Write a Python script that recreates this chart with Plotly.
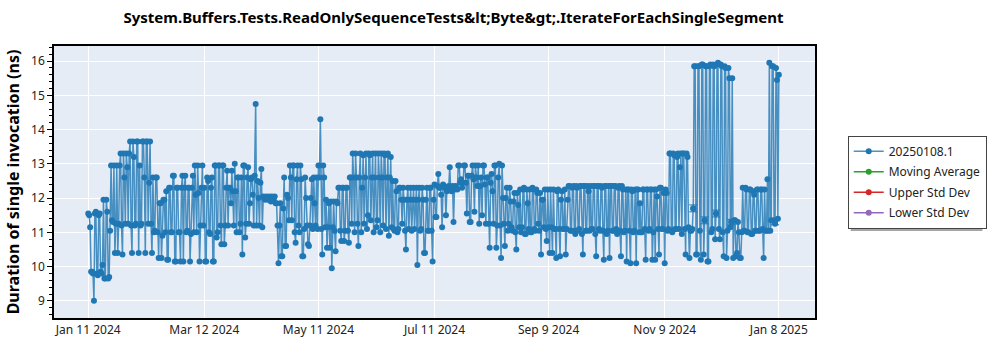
import plotly.graph_objects as go
import pandas as pd

start_date = "2024-01-11"
# morning run per day, Jan 11 2024 .. Jan 8 2025
values_am = [
    # days 0-9
    11.55, 11.15, 9.85, 9.0, 11.6, 9.75, 11.55, 9.8, 11.95, 9.65,
    # 10-19
    11.6, 9.7, 12.95, 11.3, 10.4, 12.95, 11.25, 13.3, 10.35, 12.6,
    # 20-29
    13.3, 11.25, 13.65, 10.4, 13.2, 11.25, 13.65, 12.95, 11.25, 13.65,
    # 30-39
    10.4, 13.65, 12.45, 11.25, 12.6, 11.05, 12.6, 10.25, 11.85, 10.9,
    # 40-49
    11.95, 12.2, 10.2, 12.3, 11.0, 12.65, 10.15, 12.3, 11.0, 12.3,
    # 50-59
    10.15, 12.65, 11.05, 12.3, 10.95, 12.65, 12.95, 11.0, 12.15, 11.2,
    # 60-69
    12.95, 12.3, 10.15, 12.5, 10.95, 12.6, 10.15, 12.95, 11.0, 12.95,
    # 70-79
    10.65, 12.95, 11.2, 12.8, 12.3, 11.85, 12.2, 13.0, 11.0, 12.6,
    # 80-89
    11.25, 10.35, 12.95, 11.25, 12.9, 11.85, 12.6, 11.2, 14.75, 12.5,
    # 90-99
    11.2, 12.85, 12.05, 11.95, 12.0, 12.05, 11.9, 12.0, 12.05, 11.85,
    # 100-109
    10.1, 11.85, 10.3, 12.6, 10.6, 12.0, 12.95, 11.35, 12.95, 10.7,
    # 110-119
    12.95, 11.0, 12.55, 10.3, 12.6, 11.2, 10.6, 12.0, 11.1, 11.85,
    # 120-129
    12.6, 12.95, 14.3, 10.35, 12.6, 11.95, 11.15, 10.55, 9.95, 11.9,
    # 130-139
    10.45, 11.85, 12.3, 10.75, 12.3, 11.05, 12.3, 10.7, 12.6, 13.3,
    # 140-149
    11.0, 12.6, 10.6, 13.3, 12.3, 11.25, 13.3, 11.5, 13.25, 12.6,
    # 150-159
    11.0, 13.3, 11.35, 12.6, 13.3, 11.2, 13.25, 12.6, 10.9, 13.2,
    # 160-169
    12.5, 11.05, 12.2, 11.1, 12.3, 11.25, 11.95, 10.5, 12.3, 11.95,
    # 170-179
    11.05, 12.3, 11.95, 10.05, 12.3, 11.1, 11.95, 10.4, 12.3, 11.05,
    # 180-189
    12.3, 10.15, 12.4, 11.45, 12.7, 12.3, 11.15, 12.35, 11.5, 12.3,
    # 190-199
    12.9, 12.2, 11.3, 12.35, 12.25, 12.95, 12.55, 12.45, 12.95, 11.55,
    # 200-209
    12.65, 11.3, 12.95, 11.6, 12.6, 12.95, 12.35, 11.5, 12.95, 11.25,
    # 210-219
    12.6, 10.55, 12.7, 11.25, 12.95, 11.2, 13.0, 10.25, 12.0, 10.6,
    # 220-229
    12.3, 11.25, 11.9, 11.05, 12.15, 10.5, 11.8, 12.25, 11.15, 12.3,
    # 230-239
    10.95, 11.85, 12.25, 11.0, 12.25, 11.05, 12.15, 11.05, 10.35, 11.95,
    # 240-249
    12.25, 10.75, 11.15, 12.25, 10.4, 11.1, 10.25, 12.25, 10.3, 12.2,
    # 250-259
    11.1, 10.35, 11.95, 12.35, 11.05, 12.35, 10.95, 12.3, 11.1, 12.35,
    # 260-269
    10.35, 12.35, 11.05, 12.2, 12.35, 11.1, 12.35, 10.3, 12.35, 11.05,
    # 270-279
    12.3, 10.2, 12.35, 11.05, 10.25, 12.35, 11.05, 12.35, 10.95, 12.35,
    # 280-289
    10.3, 12.25, 11.05, 10.15, 12.25, 10.1, 12.2, 11.05, 10.1, 12.25,
    # 290-299
    11.85, 11.0, 12.25, 10.2, 12.25, 11.1, 12.25, 11.0, 10.2, 12.05,
    # 300-309
    10.35, 12.3, 11.1, 10.1, 12.15, 11.1, 13.3, 11.0, 13.25, 11.1,
    # 310-319
    13.3, 12.9, 10.95, 13.3, 10.35, 13.2, 10.25, 11.05, 11.7, 15.85,
    # 320-329
    10.35, 15.85, 10.2, 15.9, 11.35, 15.85, 10.15, 15.9, 11.1, 15.85,
    # 330-339
    11.55, 15.95, 10.8, 15.85, 10.3, 15.8, 11.05, 15.5, 11.3, 10.25,
    # 340-349
    11.35, 10.4, 11.0, 10.25, 12.3, 11.05, 12.25, 11.0, 12.25, 10.95,
    # 350-359
    12.1, 11.05, 12.25, 11.05, 12.25, 10.25, 11.05, 12.55, 15.95, 11.35,
    # 360-363
    15.85, 11.25, 15.45, 15.6,
]
# evening run per day (days 0-362)
values_pm = [
    # days 0-9
    11.5, 9.85, 9.8, 11.55, 9.8, 11.5, 9.85, 10.05, 9.65, 11.95,
    # 10-19
    9.65, 11.05, 11.35, 12.95, 11.25, 10.4, 12.95, 11.2, 13.3, 11.25,
    # 20-29
    12.9, 13.3, 11.2, 13.65, 11.2, 13.65, 10.4, 11.2, 13.65, 12.6,
    # 30-39
    13.65, 11.25, 13.65, 10.4, 11.0, 12.6, 11.0, 11.85, 10.25, 11.95,
    # 40-49
    11.0, 10.2, 12.3, 11.0, 12.65, 10.15, 12.3, 11.0, 10.15, 12.65,
    # 50-59
    12.3, 11.0, 12.3, 10.15, 12.3, 11.0, 12.1, 12.95, 10.15, 12.3,
    # 60-69
    11.2, 10.15, 12.6, 11.0, 12.3, 10.15, 12.95, 10.85, 12.95, 11.2,
    # 70-79
    12.95, 10.65, 12.3, 11.2, 12.3, 12.8, 11.2, 12.2, 12.6, 11.0,
    # 80-89
    12.6, 12.95, 10.85, 12.6, 11.25, 12.55, 12.1, 12.65, 11.2, 12.0,
    # 90-99
    12.45, 11.15, 12.0, 12.05, 11.95, 12.0, 12.05, 11.95, 11.85, 11.2,
    # 100-109
    11.2, 10.3, 11.7, 10.6, 12.1, 11.35, 12.6, 12.95, 11.0, 12.55,
    # 110-119
    11.2, 12.95, 10.3, 11.1, 12.0, 10.65, 11.2, 12.55, 12.6, 11.2,
    # 120-129
    11.1, 12.6, 11.1, 12.95, 11.15, 10.55, 11.85, 11.9, 11.15, 11.05,
    # 130-139
    11.9, 12.3, 11.05, 12.3, 10.75, 12.3, 11.05, 12.6, 11.25, 12.6,
    # 140-149
    13.3, 11.25, 12.6, 11.0, 13.25, 12.6, 11.1, 13.3, 11.35, 13.3,
    # 150-159
    12.6, 11.15, 13.3, 11.0, 12.6, 13.3, 11.1, 13.3, 12.6, 11.15,
    # 160-169
    11.1, 12.5, 11.0, 12.3, 11.95, 12.3, 11.05, 11.95, 11.1, 12.3,
    # 170-179
    11.95, 11.1, 12.3, 11.95, 11.05, 12.3, 10.4, 11.95, 11.05, 12.3,
    # 180-189
    11.05, 11.95, 11.45, 12.35, 12.3, 12.1, 12.4, 12.3, 12.2, 12.35,
    # 190-199
    12.3, 12.35, 12.25, 12.3, 12.95, 12.45, 12.3, 12.95, 12.45, 12.65,
    # 200-209
    11.3, 12.65, 12.55, 12.95, 12.35, 11.25, 12.6, 12.95, 12.4, 12.6,
    # 210-219
    11.25, 12.45, 12.2, 12.95, 10.55, 12.6, 11.2, 12.95, 11.25, 12.0,
    # 220-229
    11.05, 12.3, 11.15, 11.9, 11.0, 12.15, 11.15, 11.0, 12.25, 10.95,
    # 230-239
    12.25, 11.1, 11.0, 12.3, 11.1, 12.25, 11.25, 12.15, 11.95, 11.15,
    # 240-249
    11.1, 12.25, 10.4, 11.15, 12.25, 11.1, 12.2, 11.1, 11.95, 11.1,
    # 250-259
    12.25, 11.1, 12.35, 11.05, 12.3, 11.05, 12.35, 11.05, 12.35, 10.95,
    # 260-269
    12.35, 11.05, 12.35, 11.05, 11.1, 12.35, 10.95, 12.35, 11.1, 12.35,
    # 270-279
    11.05, 12.35, 10.95, 12.35, 12.35, 11.05, 12.35, 11.1, 12.3, 11.05,
    # 280-289
    12.35, 11.0, 12.25, 12.25, 11.05, 12.25, 11.0, 12.25, 12.25, 11.0,
    # 290-299
    11.0, 12.25, 11.1, 12.25, 11.05, 12.25, 10.2, 12.25, 12.25, 11.1,
    # 300-309
    12.3, 11.1, 12.15, 12.25, 11.05, 13.3, 11.05, 13.3, 11.1, 13.2,
    # 310-319
    11.1, 13.3, 13.3, 11.1, 13.3, 11.15, 11.05, 11.1, 15.85, 10.35,
    # 320-329
    15.85, 11.05, 15.9, 10.35, 15.85, 10.15, 15.85, 11.0, 15.9, 10.8,
    # 330-339
    15.9, 11.1, 15.9, 11.0, 15.85, 10.25, 15.8, 11.15, 15.5, 11.35,
    # 340-349
    10.3, 11.3, 10.25, 11.0, 11.05, 12.3, 11.0, 12.25, 10.95, 12.2,
    # 350-359
    11.05, 12.25, 11.05, 12.25, 11.1, 12.25, 11.05, 11.05, 11.05, 15.85,
    # 360-362
    11.35, 15.8, 11.4,
]

# runs with a visible spread (error bars)
err_dates = ["2024-11-24", "2024-11-30", "2024-12-06", "2024-12-14", "2025-01-06"]
err_values = [11.7, 11.35, 11.55, 11.3, 11.3]
err_sizes = [0.1, 0.1, 0.1, 0.08, 0.08]

tick_dates = ["2024-01-11", "2024-03-12", "2024-05-11", "2024-07-11",
              "2024-09-09", "2024-11-09", "2025-01-08"]
tick_labels = ["Jan 11 2024", "Mar 12 2024", "May 11 2024", "Jul 11 2024",
               "Sep 9 2024", "Nov 9 2024", "Jan 8 2025"]

title_text = "System.Buffers.Tests.ReadOnlySequenceTests&amp;lt;Byte&amp;gt;.IterateForEachSingleSegment"
y_title = "Duration of single invocation (ns)"
series_name = "20250108.1"
extra_series = ["Moving Average", "Upper Std Dev", "Lower Std Dev"]
extra_colors = ["#2ca02c", "#d62728", "#9467bd"]

FONT = "Noto Sans"
BLUE = "#1f77b4"

am = pd.DataFrame({"t": pd.date_range(start_date, periods=len(values_am), freq="D"),
                   "v": values_am})
pm = pd.DataFrame({"t": pd.date_range(pd.Timestamp(start_date) + pd.Timedelta(hours=12),
                                      periods=len(values_pm), freq="D"),
                   "v": values_pm})
runs = pd.concat([am, pm]).sort_values("t")

fig = go.Figure()
fig.add_trace(go.Scatter(
    x=runs["t"], y=runs["v"], mode="lines+markers", name=series_name,
    legendgroup="g0",
    line=dict(color="rgba(31,119,180,0.8)", width=1.5),
    marker=dict(color=BLUE, size=6),
))
fig.add_trace(go.Scatter(
    x=err_dates, y=err_values, mode="markers", showlegend=False, legendgroup="g0",
    marker=dict(color=BLUE, size=6),
    error_y=dict(type="data", array=err_sizes, visible=True,
                 color=BLUE, thickness=1, width=4),
))
for i, (name, col) in enumerate(zip(extra_series, extra_colors)):
    fig.add_trace(go.Scatter(
        x=[None], y=[None], mode="lines+markers", name=name,
        legendgroup=f"g{i+1}",
        line=dict(color=col, width=1.5), marker=dict(color=col, size=6),
    ))

# legend shadow
fig.add_shape(type="rect", xref="paper", yref="paper",
              x0=1.0469, x1=1.220, y0=0.320, y1=0.654,
              fillcolor="rgba(0,0,0,0.35)", line=dict(width=0), layer="above")

fig.update_layout(
    width=1000, height=350,
    margin=dict(l=47, r=185, t=46, b=32),
    paper_bgcolor="white", plot_bgcolor="#E5ECF6",
    font=dict(family=FONT, size=12, color="#333333"),
    title=dict(text=title_text, x=0.525, xref="paper", xanchor="center",
               y=0.95, yanchor="middle",
               font=dict(family=FONT, size=15, color="black", weight="bold")),
    legend=dict(x=1.043, y=0.67, xanchor="left", yanchor="top",
                bgcolor="white", bordercolor="#444444", borderwidth=1,
                font=dict(family=FONT, size=12, color="#222222"),
                itemwidth=30, tracegroupgap=1.5),
    showlegend=True,
)
fig.update_xaxes(
    type="date", range=["2023-12-24", "2025-01-27"],
    tickvals=tick_dates, ticktext=tick_labels, ticks="",
    showgrid=True, gridcolor="white", gridwidth=1,
    showline=True, linecolor="black", linewidth=1.5, mirror=True,
    zeroline=False, tickfont=dict(size=12, color="#222222"),
)
fig.update_yaxes(
    range=[8.5, 16.44], dtick=1, tick0=9,
    ticks="outside", ticklen=5, tickcolor="black",
    minor=dict(ticks="outside", ticklen=3, dtick=0.2, tickcolor="black", showgrid=False),
    showgrid=True, gridcolor="white", gridwidth=1,
    showline=True, linecolor="black", linewidth=1.5, mirror=True,
    zeroline=False, tickfont=dict(size=12, color="#222222"),
    title=dict(text=y_title, standoff=8,
               font=dict(family=FONT, size=16, color="black", weight="bold")),
)

fig.write_html("out.html")
